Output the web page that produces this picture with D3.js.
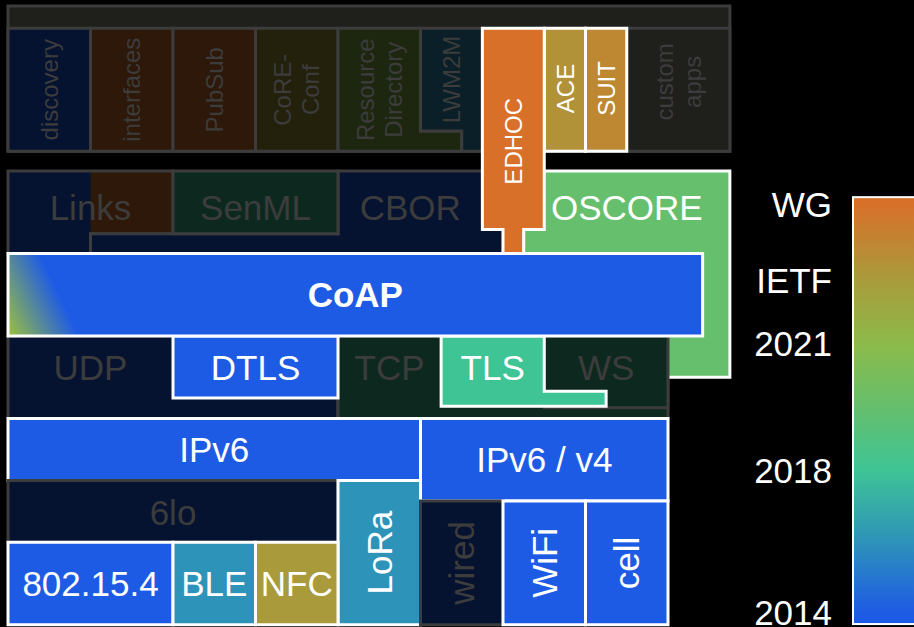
<!DOCTYPE html>
<html lang="en">
<head>
<meta charset="utf-8">
<script src="https://d3js.org/d3.v7.min.js"></script>
<style>
  body { margin: 0; background: #000; }
  svg { display: block; background: #000; }
  text { font-family: "Liberation Sans", Arial, sans-serif; }
</style>
<title>CoAP stack</title>
</head>
<body>
<svg id="chart" width="914" height="627"></svg>
<script>
// pseudo-years for drafts above 2021 on the colour bar
const IETF = 2022.5, WG = 2024.5;

// box labels (\n = line break)
const names = ["", "discovery", "interfaces", "PubSub", "CoRE-\nConf", "Resource\nDirectory", "LWM2M", "custom\napps", "ACE", "SUIT",
  "Links", "CBOR", "SenML", "UDP", "TCP", "OSCORE", "WS", "TLS", "DTLS", "EDHOC", "CoAP",
  "IPv6", "IPv6 / v4", "6lo", "LoRa", "802.15.4", "BLE", "NFC", "wired", "WiFi", "cell"];
// year of each box (null = no colour)
const years = [null, 2014, WG, WG, IETF, 2021, 2016, null, 2022.9, 2023.4,
  2014, 2014, 2018, 2014, 2018, 2019.5, 2018, 2018, 2014, WG, 2014,
  2014, 2014, 2014, 2016, 2014, 2016, IETF, 2014, 2014, 2014];
// highlighted or greyed out
const active = [0, 0, 0, 0, 0, 0, 0, 0, 1, 1,
  0, 0, 0, 0, 0, 1, 0, 1, 1, 1, 1,
  1, 1, 0, 1, 1, 1, 1, 0, 1, 1];
const linksPatchYear = WG;

// colour bar
const tickLabels = ["2014", "2018", "2021", "IETF", "WG"];
const tickValues = [2014, 2018, 2021, IETF, WG];
const stopYears = [2014, 2016, 2018, 2019.5, 2021, IETF, WG];
const stopColours = ["#1e5be5", "#2e93b9", "#3ec495", "#66bf6c", "#8cba4a", "#a99b3b", "#d8702a"];
const barExtent = [2013.66, 2024.68];

// layout in grid units (one unit = one column)
const R = (x0, y0, x1, y1) => [[x0, y0], [x1, y0], [x1, y1], [x0, y1]];
const layout = [
  { poly: R(0, 0, 8.75, 1.76) },
  { poly: R(0, 0.27, 1, 1.76), at: [0.5, 1.015], rot: true, small: true },
  { poly: R(1, 0.27, 2, 1.76), at: [1.5, 1.015], rot: true, small: true },
  { poly: R(2, 0.27, 3, 1.76), at: [2.5, 1.015], rot: true, small: true },
  { poly: R(3, 0.27, 4, 1.76), at: [3.5, 1.015], rot: true, small: true },
  { poly: [[4, 0.27], [5, 0.27], [5, 1.515], [5.5, 1.515], [5.5, 1.76], [4, 1.76]], at: [4.5, 1.015], rot: true, small: true },
  { poly: [[5, 0.27], [5.75, 0.27], [5.75, 1.76], [5.5, 1.76], [5.5, 1.515], [5, 1.515]], at: [5.375, 0.89], rot: true, small: true },
  { poly: R(7.5, 0.27, 8.75, 1.76), at: [8.125, 0.92], rot: true, small: true },
  { poly: R(6.5, 0.27, 7, 1.76), at: [6.75, 1.0], rot: true, small: true },
  { poly: R(7, 0.27, 7.5, 1.76), at: [7.25, 1.0], rot: true, small: true },
  { poly: [[0, 2], [2, 2], [2, 2.76], [1, 2.76], [1, 3], [0, 3]], at: [1, 2.44], patch: R(1, 2, 2, 2.76) },
  { poly: [[1, 3], [1, 2.76], [4, 2.76], [4, 2], [6, 2], [6, 3]], at: [4.875, 2.44] },
  { poly: R(2, 2, 4, 2.76), at: [3, 2.44] },
  { poly: R(0, 4, 4, 5), at: [1, 4.38] },
  { poly: R(4, 4, 8, 5), at: [4.625, 4.38] },
  { poly: R(6.25, 2, 8.75, 4.5), at: [7.5, 2.44] },
  { poly: R(6.5, 4, 8, 4.87), at: [7.25, 4.38] },
  { poly: [[5.25, 4], [6.5, 4], [6.5, 4.67], [7.25, 4.67], [7.25, 4.85], [5.25, 4.85]], at: [5.875, 4.38] },
  { poly: R(2, 4, 4, 4.75), at: [3, 4.38] },
  { poly: [[5.75, 0.27], [6.5, 0.27], [6.5, 2.71], [6.25, 2.71], [6.25, 3], [6, 3], [6, 2.71], [5.75, 2.71]], at: [6.125, 1.64], rot: true, small: true },
  { poly: R(0, 3, 8.42, 4), at: [4.21, 3.5], bold: true, grad: true },
  { poly: R(0, 5, 5, 5.75), at: [2.5, 5.375] },
  { poly: R(5, 5, 8, 6), at: [6.5, 5.5] },
  { poly: R(0, 5.75, 4, 6.5), at: [2, 6.14] },
  { poly: R(4, 5.75, 5, 7.5), at: [4.5, 6.625], rot: true },
  { poly: R(0, 6.5, 2, 7.5), at: [1, 7] },
  { poly: R(2, 6.5, 3, 7.5), at: [2.5, 7] },
  { poly: R(3, 6.5, 4, 7.5), at: [3.5, 7] },
  { poly: R(5, 6, 6, 7.5), at: [5.5, 6.75], rot: true },
  { poly: R(6, 6, 7, 7.5), at: [6.5, 6.75], rot: true },
  { poly: R(7, 6, 8, 7.5), at: [7.5, 6.75], rot: true }
];

const svg = d3.select("#chart");
const x = d3.scaleLinear().domain([0, 8]).range([8, 668]);
const y = d3.scaleLinear().domain([0, 1]).range([6, 88.5]);
const colour = d3.scaleLinear().domain(stopYears).range(stopColours).interpolate(d3.interpolateRgb);
const dim = c => d3.interpolateRgb("#000", c)(0.21);
const grey = "#3c3c3c";

const fillOf = (yr, on) => yr == null ? "#1f1f1b" : (on ? colour(yr) : dim(colour(yr)));
const line = d3.line().x(d => x(d[0])).y(d => y(d[1])).curve(d3.curveLinearClosed);

const defs = svg.append("defs");

// CoAP corner gradient (still growing since 2021)
const cg = defs.append("linearGradient").attr("id", "coapGrad")
    .attr("gradientUnits", "userSpaceOnUse")
    .attr("x1", x(0)).attr("y1", y(4))
    .attr("x2", x(0.7)).attr("y2", y(3.66));
cg.append("stop").attr("offset", 0).attr("stop-color", "#9cc13c");
cg.append("stop").attr("offset", 1).attr("stop-color", colour(2014));

const boxes = svg.append("g");
layout.forEach((d, i) => {
    const on = active[i] === 1;
    boxes.append("path").attr("d", line(d.poly))
        .attr("fill", d.grad ? "url(#coapGrad)" : fillOf(years[i], on));
    if (d.patch) {
        boxes.append("path").attr("d", line(d.patch)).attr("fill", fillOf(linksPatchYear, false));
    }
    boxes.append("path").attr("d", line(d.poly))
        .attr("fill", "none")
        .attr("stroke", on ? "#fff" : grey)
        .attr("stroke-width", 3)
        .attr("stroke-linejoin", "miter");
});

// labels
const labels = svg.append("g");
layout.forEach((d, i) => {
    if (!d.at || !names[i]) return;
    const on = active[i] === 1;
    const size = d.small ? 24 : 35;
    const lines = names[i].split("\n");
    const t = labels.append("text")
        .attr("transform", `translate(${x(d.at[0])},${y(d.at[1])})` + (d.rot ? " rotate(-90)" : ""))
        .attr("text-anchor", "middle")
        .attr("font-size", size)
        .attr("font-weight", d.bold ? "bold" : "normal")
        .attr("fill", on ? "#fff" : grey);
    lines.forEach((s, k) => {
        t.append("tspan").attr("x", 0)
            .attr("dy", k === 0 ? (0.36 - (lines.length - 1) * 0.58) + "em" : "1.16em")
            .text(s);
    });
});

// colour bar
const yBar = d3.scaleLinear().domain(tickValues).range([612, 470, 343, 280, 204]);
const bg = defs.append("linearGradient").attr("id", "barGrad")
    .attr("gradientUnits", "userSpaceOnUse")
    .attr("x1", 0).attr("x2", 0)
    .attr("y1", yBar(barExtent[0])).attr("y2", yBar(barExtent[1]));
stopYears.forEach(s => {
    bg.append("stop")
        .attr("offset", (yBar(s) - yBar(barExtent[0])) / (yBar(barExtent[1]) - yBar(barExtent[0])))
        .attr("stop-color", colour(s));
});
svg.append("rect")
    .attr("x", 853).attr("width", 80)
    .attr("y", yBar(barExtent[1]))
    .attr("height", yBar(barExtent[0]) - yBar(barExtent[1]))
    .attr("fill", "url(#barGrad)")
    .attr("stroke", "#fff").attr("stroke-width", 2);

svg.append("g").selectAll("text")
    .data(tickValues)
    .enter().append("text")
    .attr("x", 832)
    .attr("y", d => yBar(d))
    .attr("dy", "0.36em")
    .attr("text-anchor", "end")
    .attr("font-size", 35)
    .attr("fill", "#fff")
    .text((d, i) => tickLabels[i]);
</script>
</body>
</html>
